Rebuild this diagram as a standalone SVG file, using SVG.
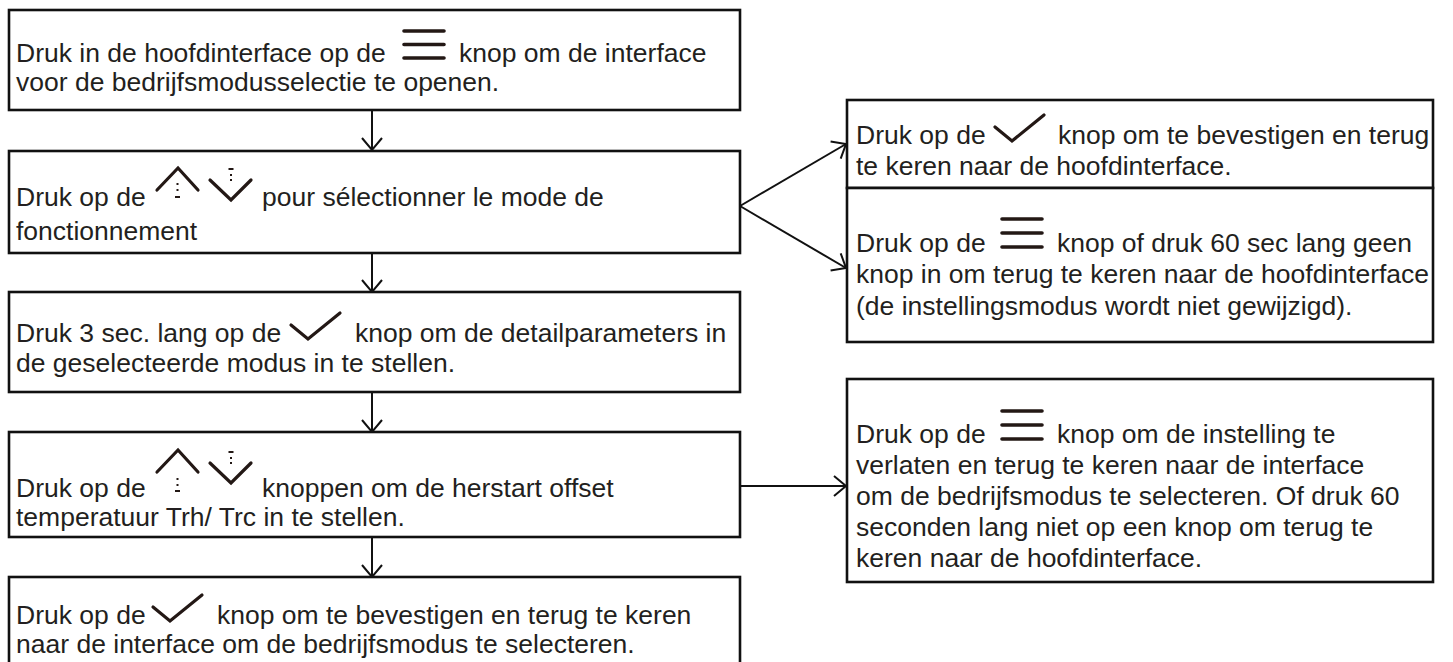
<svg xmlns="http://www.w3.org/2000/svg" width="1453" height="662" viewBox="0 0 1453 662">
<defs>
<style>
.box{fill:#fff;stroke:#111;stroke-width:2.6}
.t{font-family:"Liberation Sans",Arial,sans-serif;font-size:26.5px;fill:#231f20}
.ic{fill:none;stroke:#231815;stroke-width:3.6;stroke-linecap:round;stroke-linejoin:round}
.ch{fill:none;stroke:#231815;stroke-width:3.2;stroke-linecap:round;stroke-linejoin:miter}
.dot{fill:#231815}
.con{fill:none;stroke:#111;stroke-width:2}
</style>
<marker id="ah" viewBox="-15 -12 17 24" markerWidth="17" markerHeight="24" refX="0" refY="0" orient="auto" markerUnits="userSpaceOnUse">
<path d="M-12,-10 L0,0 L-12,10" fill="none" stroke="#111" stroke-width="2"/>
</marker>
</defs>
<rect width="1453" height="662" fill="#fff"/>

<g id="connectors">
<line class="con" x1="372" y1="111" x2="372" y2="150" marker-end="url(#ah)"/>
<line class="con" x1="372" y1="253" x2="372" y2="292" marker-end="url(#ah)"/>
<line class="con" x1="372" y1="393" x2="372" y2="432" marker-end="url(#ah)"/>
<line class="con" x1="372" y1="538" x2="372" y2="577" marker-end="url(#ah)"/>
<line class="con" x1="740" y1="206" x2="846" y2="144" marker-end="url(#ah)"/>
<line class="con" x1="740" y1="206" x2="846" y2="268" marker-end="url(#ah)"/>
<line class="con" x1="741" y1="486" x2="846" y2="486" marker-end="url(#ah)"/>
</g>

<g id="node1">
<rect class="box" x="9" y="10" width="731" height="100"/>
<text class="t" x="16" y="62">Druk in de hoofdinterface op de</text>
<path class="ic" d="M404,31H444M404,44.5H444M404,58H444"/>
<text class="t" x="459" y="62">knop om de interface</text>
<text class="t" x="16" y="91">voor de bedrijfsmodusselectie te openen.</text>
</g>

<g id="node2">
<rect class="box" x="9" y="151" width="731" height="102"/>
<text class="t" x="16" y="206">Druk op de</text>
<polyline class="ch" points="157,190 178,168 198,190"/>
<rect class="dot" x="176.5" y="183" width="2" height="2"/>
<rect class="dot" x="176.5" y="189" width="2" height="2"/>
<rect class="dot" x="175" y="196" width="5" height="2"/>
<polyline class="ch" points="210,180 231,200 251,180"/>
<rect class="dot" x="228.5" y="168" width="5" height="2"/>
<rect class="dot" x="230" y="174" width="2" height="2"/>
<rect class="dot" x="230" y="179" width="2" height="2"/>
<text class="t" x="262" y="206">pour sélectionner le mode de</text>
<text class="t" x="16" y="240">fonctionnement</text>
</g>

<g id="node3">
<rect class="box" x="9" y="292" width="731" height="100"/>
<text class="t" x="16" y="342">Druk 3 sec. lang op de</text>
<polyline class="ch" points="291,325 308,339 340,313"/>
<text class="t" x="355" y="342">knop om de detailparameters in</text>
<text class="t" x="16" y="372">de geselecteerde modus in te stellen.</text>
</g>

<g id="node4">
<rect class="box" x="9" y="432" width="731" height="105"/>
<text class="t" x="16" y="497">Druk op de</text>
<polyline class="ch" points="157,472 178,450 198,472"/>
<rect class="dot" x="176.5" y="478" width="2" height="2"/>
<rect class="dot" x="176.5" y="484" width="2" height="2"/>
<rect class="dot" x="175" y="490" width="5" height="2"/>
<polyline class="ch" points="210,463 231,483 251,463"/>
<rect class="dot" x="228.5" y="451" width="5" height="2"/>
<rect class="dot" x="230" y="457" width="2" height="2"/>
<rect class="dot" x="230" y="462" width="2" height="2"/>
<text class="t" x="262" y="497">knoppen om de herstart offset</text>
<text class="t" x="16" y="526">temperatuur Trh/ Trc in te stellen.</text>
</g>

<g id="node5">
<rect class="box" x="9" y="577" width="731" height="110"/>
<text class="t" x="16" y="624">Druk op de</text>
<polyline class="ch" points="153,607 170,621 202,595"/>
<text class="t" x="217" y="624">knop om te bevestigen en terug te keren</text>
<text class="t" x="16" y="653">naar de interface om de bedrijfsmodus te selecteren.</text>
</g>

<g id="nodeA">
<rect class="box" x="847" y="100" width="586" height="88"/>
<text class="t" x="856" y="144">Druk op de</text>
<polyline class="ch" points="995,127 1012,141 1044,115"/>
<text class="t" x="1058" y="144">knop om te bevestigen en terug</text>
<text class="t" x="856" y="175">te keren naar de hoofdinterface.</text>
</g>

<g id="nodeB">
<rect class="box" x="847" y="188" width="586" height="154"/>
<text class="t" x="856" y="252">Druk op de</text>
<path class="ic" d="M1002,219H1042M1002,233H1042M1002,247H1042"/>
<text class="t" x="1057" y="252">knop of druk 60 sec lang geen</text>
<text class="t" x="856" y="283">knop in om terug te keren naar de hoofdinterface</text>
<text class="t" x="856" y="315">(de instellingsmodus wordt niet gewijzigd).</text>
</g>

<g id="nodeC">
<rect class="box" x="847" y="379" width="586" height="203"/>
<text class="t" x="856" y="443">Druk op de</text>
<path class="ic" d="M1002,411H1042M1002,425H1042M1002,439H1042"/>
<text class="t" x="1057" y="443">knop om de instelling te</text>
<text class="t" x="856" y="474">verlaten en terug te keren naar de interface</text>
<text class="t" x="856" y="505">om de bedrijfsmodus te selecteren. Of druk 60</text>
<text class="t" x="856" y="536">seconden lang niet op een knop om terug te</text>
<text class="t" x="856" y="567">keren naar de hoofdinterface.</text>
</g>
</svg>
